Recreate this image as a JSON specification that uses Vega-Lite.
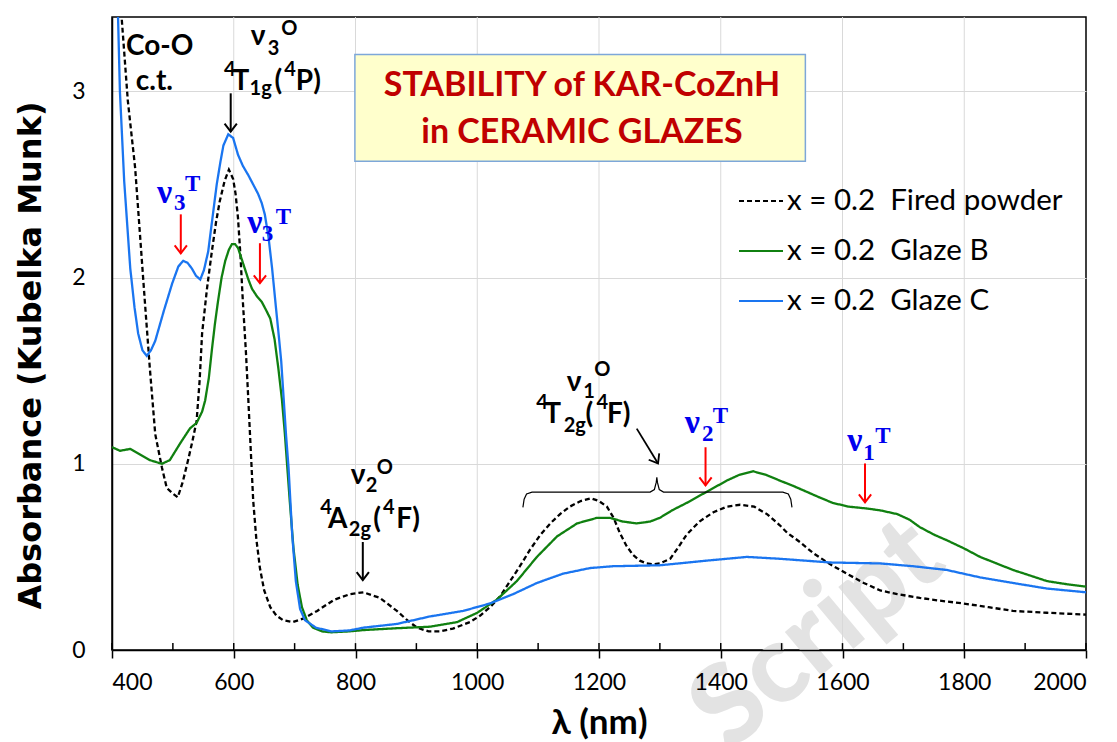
{
  "$schema": "https://vega.github.io/schema/vega-lite/v6.json",
  "width": 974,
  "height": 633,
  "autosize": {"type": "none"},
  "padding": {"left": 112, "top": 17, "right": 31, "bottom": 92},
  "background": "white",
  "config": {
    "font": "Lato",
    "view": {"stroke": "#000000", "strokeWidth": 1.5},
    "axis": {"gridColor": "#d9d9d9", "gridWidth": 1, "labelColor": "#000000", "titleColor": "#000000", "domainColor": "#000000", "tickColor": "#000000"},
    "legend": {"orient": "none", "legendX": 626, "legendY": 161, "symbolType": "stroke", "symbolSize": 1936, "symbolStrokeWidth": 2, "labelFont": "Lato", "labelFontSize": 29.5, "labelColor": "#000000", "labelOffset": 3, "rowPadding": 12, "padding": 0, "labelLimit": 400}
  },
  "datasets": {
    "spectra": [
      {"s":"Fired powder","wl":400,"a":4.2},{"s":"Fired powder","wl":408,"a":3.8},{"s":"Fired powder","wl":416,"a":3.39},{"s":"Fired powder","wl":426,"a":2.95},{"s":"Fired powder","wl":438,"a":2.59},{"s":"Fired powder","wl":446,"a":2.23},{"s":"Fired powder","wl":454,"a":1.87},{"s":"Fired powder","wl":462,"a":1.52},{"s":"Fired powder","wl":471,"a":1.16},{"s":"Fired powder","wl":482,"a":0.98},{"s":"Fired powder","wl":490,"a":0.87},{"s":"Fired powder","wl":500,"a":0.84},{"s":"Fired powder","wl":508,"a":0.82},{"s":"Fired powder","wl":516,"a":0.9},{"s":"Fired powder","wl":525,"a":1.02},{"s":"Fired powder","wl":532,"a":1.12},{"s":"Fired powder","wl":539,"a":1.23},{"s":"Fired powder","wl":544,"a":1.45},{"s":"Fired powder","wl":548,"a":1.7},{"s":"Fired powder","wl":556,"a":1.94},{"s":"Fired powder","wl":564,"a":2.14},{"s":"Fired powder","wl":571,"a":2.3},{"s":"Fired powder","wl":577,"a":2.41},{"s":"Fired powder","wl":585,"a":2.52},{"s":"Fired powder","wl":592,"a":2.58},{"s":"Fired powder","wl":599,"a":2.53},{"s":"Fired powder","wl":603,"a":2.45},{"s":"Fired powder","wl":607,"a":2.32},{"s":"Fired powder","wl":611,"a":2.12},{"s":"Fired powder","wl":615,"a":1.87},{"s":"Fired powder","wl":620,"a":1.6},{"s":"Fired powder","wl":624,"a":1.34},{"s":"Fired powder","wl":628,"a":1.07},{"s":"Fired powder","wl":632,"a":0.8},{"s":"Fired powder","wl":637,"a":0.6},{"s":"Fired powder","wl":643,"a":0.44},{"s":"Fired powder","wl":650,"a":0.32},{"s":"Fired powder","wl":660,"a":0.23},{"s":"Fired powder","wl":670,"a":0.185},{"s":"Fired powder","wl":681,"a":0.16},{"s":"Fired powder","wl":697,"a":0.15},{"s":"Fired powder","wl":715,"a":0.17},{"s":"Fired powder","wl":737,"a":0.21},{"s":"Fired powder","wl":765,"a":0.27},{"s":"Fired powder","wl":791,"a":0.3},{"s":"Fired powder","wl":813,"a":0.31},{"s":"Fired powder","wl":840,"a":0.28},{"s":"Fired powder","wl":868,"a":0.21},{"s":"Fired powder","wl":885,"a":0.16},{"s":"Fired powder","wl":901,"a":0.12},{"s":"Fired powder","wl":920,"a":0.1},{"s":"Fired powder","wl":939,"a":0.1},{"s":"Fired powder","wl":960,"a":0.115},{"s":"Fired powder","wl":988,"a":0.15},{"s":"Fired powder","wl":1005,"a":0.185},{"s":"Fired powder","wl":1021,"a":0.23},{"s":"Fired powder","wl":1038,"a":0.29},{"s":"Fired powder","wl":1054,"a":0.37},{"s":"Fired powder","wl":1070,"a":0.45},{"s":"Fired powder","wl":1087,"a":0.54},{"s":"Fired powder","wl":1104,"a":0.62},{"s":"Fired powder","wl":1120,"a":0.68},{"s":"Fired powder","wl":1136,"a":0.73},{"s":"Fired powder","wl":1152,"a":0.77},{"s":"Fired powder","wl":1170,"a":0.8},{"s":"Fired powder","wl":1187,"a":0.815},{"s":"Fired powder","wl":1200,"a":0.8},{"s":"Fired powder","wl":1213,"a":0.77},{"s":"Fired powder","wl":1224,"a":0.71},{"s":"Fired powder","wl":1234,"a":0.63},{"s":"Fired powder","wl":1245,"a":0.56},{"s":"Fired powder","wl":1256,"a":0.51},{"s":"Fired powder","wl":1267,"a":0.48},{"s":"Fired powder","wl":1278,"a":0.465},{"s":"Fired powder","wl":1290,"a":0.46},{"s":"Fired powder","wl":1300,"a":0.465},{"s":"Fired powder","wl":1317,"a":0.49},{"s":"Fired powder","wl":1330,"a":0.55},{"s":"Fired powder","wl":1344,"a":0.62},{"s":"Fired powder","wl":1365,"a":0.69},{"s":"Fired powder","wl":1388,"a":0.74},{"s":"Fired powder","wl":1410,"a":0.77},{"s":"Fired powder","wl":1432,"a":0.78},{"s":"Fired powder","wl":1455,"a":0.77},{"s":"Fired powder","wl":1476,"a":0.73},{"s":"Fired powder","wl":1497,"a":0.67},{"s":"Fired powder","wl":1509,"a":0.63},{"s":"Fired powder","wl":1530,"a":0.58},{"s":"Fired powder","wl":1552,"a":0.52},{"s":"Fired powder","wl":1580,"a":0.46},{"s":"Fired powder","wl":1607,"a":0.41},{"s":"Fired powder","wl":1635,"a":0.36},{"s":"Fired powder","wl":1662,"a":0.32},{"s":"Fired powder","wl":1690,"a":0.3},{"s":"Fired powder","wl":1727,"a":0.28},{"s":"Fired powder","wl":1760,"a":0.265},{"s":"Fired powder","wl":1798,"a":0.25},{"s":"Fired powder","wl":1840,"a":0.23},{"s":"Fired powder","wl":1880,"a":0.21},{"s":"Fired powder","wl":1936,"a":0.2},{"s":"Fired powder","wl":2000,"a":0.19},
      {"s":"Glaze B","wl":400,"a":1.09},{"s":"Glaze B","wl":413,"a":1.07},{"s":"Glaze B","wl":430,"a":1.08},{"s":"Glaze B","wl":446,"a":1.05},{"s":"Glaze B","wl":462,"a":1.02},{"s":"Glaze B","wl":482,"a":1.0},{"s":"Glaze B","wl":495,"a":1.02},{"s":"Glaze B","wl":512,"a":1.11},{"s":"Glaze B","wl":528,"a":1.19},{"s":"Glaze B","wl":539,"a":1.22},{"s":"Glaze B","wl":548,"a":1.28},{"s":"Glaze B","wl":553,"a":1.34},{"s":"Glaze B","wl":559,"a":1.46},{"s":"Glaze B","wl":564,"a":1.61},{"s":"Glaze B","wl":569,"a":1.75},{"s":"Glaze B","wl":574,"a":1.87},{"s":"Glaze B","wl":580,"a":2.0},{"s":"Glaze B","wl":586,"a":2.09},{"s":"Glaze B","wl":592,"a":2.15},{"s":"Glaze B","wl":597,"a":2.18},{"s":"Glaze B","wl":602,"a":2.18},{"s":"Glaze B","wl":607,"a":2.16},{"s":"Glaze B","wl":612,"a":2.11},{"s":"Glaze B","wl":618,"a":2.05},{"s":"Glaze B","wl":624,"a":1.99},{"s":"Glaze B","wl":630,"a":1.94},{"s":"Glaze B","wl":638,"a":1.9},{"s":"Glaze B","wl":646,"a":1.87},{"s":"Glaze B","wl":654,"a":1.82},{"s":"Glaze B","wl":660,"a":1.78},{"s":"Glaze B","wl":667,"a":1.67},{"s":"Glaze B","wl":673,"a":1.52},{"s":"Glaze B","wl":679,"a":1.35},{"s":"Glaze B","wl":684,"a":1.16},{"s":"Glaze B","wl":688,"a":0.98},{"s":"Glaze B","wl":692,"a":0.8},{"s":"Glaze B","wl":698,"a":0.55},{"s":"Glaze B","wl":705,"a":0.35},{"s":"Glaze B","wl":712,"a":0.23},{"s":"Glaze B","wl":720,"a":0.16},{"s":"Glaze B","wl":730,"a":0.12},{"s":"Glaze B","wl":745,"a":0.1},{"s":"Glaze B","wl":760,"a":0.095},{"s":"Glaze B","wl":790,"a":0.1},{"s":"Glaze B","wl":813,"a":0.107},{"s":"Glaze B","wl":868,"a":0.117},{"s":"Glaze B","wl":922,"a":0.125},{"s":"Glaze B","wl":967,"a":0.15},{"s":"Glaze B","wl":1000,"a":0.2},{"s":"Glaze B","wl":1032,"a":0.27},{"s":"Glaze B","wl":1065,"a":0.37},{"s":"Glaze B","wl":1098,"a":0.5},{"s":"Glaze B","wl":1131,"a":0.61},{"s":"Glaze B","wl":1164,"a":0.68},{"s":"Glaze B","wl":1197,"a":0.71},{"s":"Glaze B","wl":1218,"a":0.71},{"s":"Glaze B","wl":1239,"a":0.69},{"s":"Glaze B","wl":1262,"a":0.68},{"s":"Glaze B","wl":1284,"a":0.69},{"s":"Glaze B","wl":1300,"a":0.71},{"s":"Glaze B","wl":1320,"a":0.75},{"s":"Glaze B","wl":1344,"a":0.79},{"s":"Glaze B","wl":1377,"a":0.85},{"s":"Glaze B","wl":1410,"a":0.91},{"s":"Glaze B","wl":1430,"a":0.94},{"s":"Glaze B","wl":1453,"a":0.96},{"s":"Glaze B","wl":1475,"a":0.94},{"s":"Glaze B","wl":1497,"a":0.91},{"s":"Glaze B","wl":1520,"a":0.88},{"s":"Glaze B","wl":1541,"a":0.85},{"s":"Glaze B","wl":1562,"a":0.82},{"s":"Glaze B","wl":1584,"a":0.79},{"s":"Glaze B","wl":1610,"a":0.77},{"s":"Glaze B","wl":1640,"a":0.76},{"s":"Glaze B","wl":1662,"a":0.75},{"s":"Glaze B","wl":1690,"a":0.73},{"s":"Glaze B","wl":1710,"a":0.7},{"s":"Glaze B","wl":1727,"a":0.66},{"s":"Glaze B","wl":1750,"a":0.62},{"s":"Glaze B","wl":1771,"a":0.59},{"s":"Glaze B","wl":1800,"a":0.545},{"s":"Glaze B","wl":1826,"a":0.5},{"s":"Glaze B","wl":1853,"a":0.465},{"s":"Glaze B","wl":1880,"a":0.43},{"s":"Glaze B","wl":1908,"a":0.4},{"s":"Glaze B","wl":1936,"a":0.37},{"s":"Glaze B","wl":1965,"a":0.355},{"s":"Glaze B","wl":2000,"a":0.34},
      {"s":"Glaze C","wl":402,"a":4.3},{"s":"Glaze C","wl":406,"a":3.85},{"s":"Glaze C","wl":410,"a":3.39},{"s":"Glaze C","wl":413,"a":3.0},{"s":"Glaze C","wl":420,"a":2.52},{"s":"Glaze C","wl":430,"a":2.05},{"s":"Glaze C","wl":437,"a":1.84},{"s":"Glaze C","wl":443,"a":1.7},{"s":"Glaze C","wl":450,"a":1.61},{"s":"Glaze C","wl":457,"a":1.58},{"s":"Glaze C","wl":464,"a":1.61},{"s":"Glaze C","wl":471,"a":1.66},{"s":"Glaze C","wl":485,"a":1.82},{"s":"Glaze C","wl":499,"a":1.97},{"s":"Glaze C","wl":509,"a":2.06},{"s":"Glaze C","wl":517,"a":2.09},{"s":"Glaze C","wl":524,"a":2.08},{"s":"Glaze C","wl":531,"a":2.05},{"s":"Glaze C","wl":538,"a":2.01},{"s":"Glaze C","wl":545,"a":1.99},{"s":"Glaze C","wl":551,"a":2.04},{"s":"Glaze C","wl":558,"a":2.14},{"s":"Glaze C","wl":565,"a":2.32},{"s":"Glaze C","wl":572,"a":2.5},{"s":"Glaze C","wl":578,"a":2.62},{"s":"Glaze C","wl":583,"a":2.71},{"s":"Glaze C","wl":591,"a":2.77},{"s":"Glaze C","wl":599,"a":2.75},{"s":"Glaze C","wl":607,"a":2.66},{"s":"Glaze C","wl":615,"a":2.6},{"s":"Glaze C","wl":624,"a":2.55},{"s":"Glaze C","wl":632,"a":2.5},{"s":"Glaze C","wl":640,"a":2.45},{"s":"Glaze C","wl":646,"a":2.4},{"s":"Glaze C","wl":651,"a":2.34},{"s":"Glaze C","wl":657,"a":2.22},{"s":"Glaze C","wl":663,"a":2.05},{"s":"Glaze C","wl":669,"a":1.85},{"s":"Glaze C","wl":673,"a":1.72},{"s":"Glaze C","wl":678,"a":1.55},{"s":"Glaze C","wl":682,"a":1.35},{"s":"Glaze C","wl":686,"a":1.15},{"s":"Glaze C","wl":690,"a":0.98},{"s":"Glaze C","wl":696,"a":0.62},{"s":"Glaze C","wl":702,"a":0.37},{"s":"Glaze C","wl":709,"a":0.22},{"s":"Glaze C","wl":717,"a":0.16},{"s":"Glaze C","wl":735,"a":0.12},{"s":"Glaze C","wl":760,"a":0.1},{"s":"Glaze C","wl":790,"a":0.105},{"s":"Glaze C","wl":813,"a":0.12},{"s":"Glaze C","wl":868,"a":0.14},{"s":"Glaze C","wl":922,"a":0.18},{"s":"Glaze C","wl":977,"a":0.21},{"s":"Glaze C","wl":1021,"a":0.25},{"s":"Glaze C","wl":1059,"a":0.3},{"s":"Glaze C","wl":1098,"a":0.36},{"s":"Glaze C","wl":1141,"a":0.41},{"s":"Glaze C","wl":1185,"a":0.44},{"s":"Glaze C","wl":1223,"a":0.45},{"s":"Glaze C","wl":1300,"a":0.455},{"s":"Glaze C","wl":1377,"a":0.48},{"s":"Glaze C","wl":1443,"a":0.5},{"s":"Glaze C","wl":1497,"a":0.49},{"s":"Glaze C","wl":1580,"a":0.47},{"s":"Glaze C","wl":1662,"a":0.465},{"s":"Glaze C","wl":1716,"a":0.45},{"s":"Glaze C","wl":1771,"a":0.43},{"s":"Glaze C","wl":1826,"a":0.39},{"s":"Glaze C","wl":1880,"a":0.36},{"s":"Glaze C","wl":1936,"a":0.33},{"s":"Glaze C","wl":2000,"a":0.31}
    ],
    "ann": [
      {"t":"Co-O","wl":423,"a":3.198,"g":"O","p":"b"},
      {"t":"c.t.","wl":439,"a":3.01,"g":"O","p":"b"},
      {"t":"ν","wl":628,"a":3.251,"g":"O","p":"b"},
      {"t":"T","wl":598,"a":3.01,"g":"O","p":"b"},
      {"t":"(","wl":667,"a":3.01,"g":"O","p":"b"},
      {"t":"P)","wl":702,"a":3.01,"g":"O","p":"b"},
      {"t":"ν","wl":792,"a":0.894,"g":"O","p":"b"},
      {"t":"A","wl":755,"a":0.653,"g":"O","p":"b"},
      {"t":"(","wl":829,"a":0.653,"g":"O","p":"b"},
      {"t":"F)","wl":867,"a":0.653,"g":"O","p":"b"},
      {"t":"ν","wl":1147,"a":1.393,"g":"O","p":"b"},
      {"t":"T","wl":1110,"a":1.221,"g":"O","p":"b"},
      {"t":"(","wl":1178,"a":1.221,"g":"O","p":"b"},
      {"t":"F)","wl":1213,"a":1.221,"g":"O","p":"b"},
      {"t":"3","wl":656,"a":3.198,"g":"O","p":"s"},
      {"t":"1g","wl":626,"a":2.983,"g":"O","p":"s"},
      {"t":"2","wl":817,"a":0.846,"g":"O","p":"s"},
      {"t":"2g","wl":789,"a":0.611,"g":"O","p":"s"},
      {"t":"1","wl":1174,"a":1.355,"g":"O","p":"s"},
      {"t":"2g","wl":1142,"a":1.173,"g":"O","p":"s"},
      {"t":"O","wl":678,"a":3.305,"g":"O","p":"s"},
      {"t":"4","wl":584,"a":3.085,"g":"O","p":"s"},
      {"t":"4","wl":683,"a":3.085,"g":"O","p":"s"},
      {"t":"O","wl":835,"a":0.948,"g":"O","p":"s"},
      {"t":"4","wl":742,"a":0.728,"g":"O","p":"s"},
      {"t":"4","wl":845,"a":0.728,"g":"O","p":"s"},
      {"t":"O","wl":1192,"a":1.473,"g":"O","p":"s"},
      {"t":"4","wl":1097,"a":1.296,"g":"O","p":"s"},
      {"t":"4","wl":1196,"a":1.296,"g":"O","p":"s"},
      {"t":"ν","wl":474,"a":2.4,"g":"T","p":"b"},
      {"t":"ν","wl":622,"a":2.239,"g":"T","p":"b"},
      {"t":"ν","wl":1341,"a":1.168,"g":"T","p":"b"},
      {"t":"ν","wl":1608,"a":1.071,"g":"T","p":"b"},
      {"t":"3","wl":502,"a":2.362,"g":"T","p":"s"},
      {"t":"T","wl":520,"a":2.464,"g":"T","p":"s"},
      {"t":"3","wl":646,"a":2.196,"g":"T","p":"s"},
      {"t":"T","wl":669,"a":2.287,"g":"T","p":"s"},
      {"t":"2","wl":1369,"a":1.125,"g":"T","p":"s"},
      {"t":"T","wl":1387,"a":1.221,"g":"T","p":"s"},
      {"t":"1","wl":1634,"a":1.018,"g":"T","p":"s"},
      {"t":"T","wl":1654,"a":1.114,"g":"T","p":"s"}
    ],
    "arrows": [
      {"wl":595,"a":2.99,"a2":2.785,"g":"O"},
      {"wl":812,"a":0.58,"a2":0.375,"g":"O"},
      {"wl":513,"a":2.34,"a2":2.13,"g":"T"},
      {"wl":643,"a":2.185,"a2":1.97,"g":"T"},
      {"wl":1375,"a":1.089,"a2":0.884,"g":"T"},
      {"wl":1637,"a":1.002,"a2":0.793,"g":"T"}
    ],
    "brace": [
      {"wl":1075,"a":0.766},{"wl":1077,"a":0.81},{"wl":1081,"a":0.838},{"wl":1090,"a":0.848},{"wl":1284,"a":0.848},{"wl":1291,"a":0.862},{"wl":1294,"a":0.9},{"wl":1295,"a":0.927},{"wl":1296,"a":0.9},{"wl":1299,"a":0.862},{"wl":1306,"a":0.848},{"wl":1502,"a":0.848},{"wl":1511,"a":0.838},{"wl":1515,"a":0.81},{"wl":1517,"a":0.766}
    ],
    "minor": [
      {"wl":400},{"wl":500},{"wl":600},{"wl":700},{"wl":800},{"wl":900},{"wl":1000},{"wl":1100},{"wl":1200},{"wl":1300},{"wl":1400},{"wl":1500},{"wl":1600},{"wl":1700},{"wl":1800},{"wl":1900},{"wl":2000}
    ],
    "vgrid": [
      {"wl":600},{"wl":800},{"wl":1000},{"wl":1200},{"wl":1400},{"wl":1600},{"wl":1800}
    ],
    "ttl": [
      {"t":"STABILITY of KAR-CoZnH","a":2.973},
      {"t":"in CERAMIC GLAZES","a":2.721}
    ]
  },
  "layer": [
    {
      "data": {"values": [{}]},
      "mark": {"type": "text", "text": "Script", "font": "Lato", "fontWeight": 900, "fontSize": 110, "color": "#e3e3e3", "angle": -40, "align": "center", "baseline": "middle"},
      "encoding": {"x": {"datum": 1560}, "y": {"datum": 0.08}}
    },
    {
      "data": {"name": "vgrid"},
      "mark": {"type": "rule", "color": "#d9d9d9", "strokeWidth": 1},
      "encoding": {"x": {"field": "wl", "type": "quantitative"}, "y": {"datum": 0}, "y2": {"datum": 3.4}}
    },
    {
      "data": {"values": [{}]},
      "mark": {"type": "rect", "fill": "#FFFFCC", "stroke": "#7DA7D9", "strokeWidth": 1.5},
      "encoding": {"x": {"datum": 799}, "x2": {"datum": 1539}, "y": {"datum": 3.198}, "y2": {"datum": 2.625}}
    },
    {
      "data": {"name": "ttl"},
      "mark": {"type": "text", "font": "Lato", "fontWeight": "bold", "fontSize": 34, "color": "#C00000", "align": "center", "baseline": "alphabetic"},
      "encoding": {"x": {"datum": 1172}, "y": {"field": "a", "type": "quantitative"}, "text": {"field": "t"}}
    },
    {
      "data": {"name": "minor"},
      "mark": {"type": "rule", "color": "#000000", "strokeWidth": 1.5},
      "encoding": {"x": {"field": "wl", "type": "quantitative"}, "y": {"datum": 0}, "y2": {"datum": 0.037}}
    },
    {
      "data": {"name": "spectra"},
      "mark": {"type": "line", "strokeWidth": 2.3, "clip": true},
      "encoding": {
        "x": {"field": "wl", "type": "quantitative", "scale": {"domain": [400, 2000], "nice": false, "zero": false},
          "axis": {"title": "λ (nm)", "values": [400, 600, 800, 1000, 1200, 1400, 1600, 1800, 2000], "format": "d", "grid": false, "zindex": 1, "labelFont": "Lato", "labelFontSize": 23, "tickSize": 8, "tickWidth": 1.5, "domainWidth": 1.5, "labelPadding": 13, "titleFont": "Lato", "titleFontSize": 35, "titleFontWeight": "bold", "titleY": 72, "titleBaseline": "middle"}},
        "y": {"field": "a", "type": "quantitative", "scale": {"domain": [0, 3.4], "nice": false},
          "axis": {"title": "Absorbance (Kubelka Munk)", "values": [0, 1, 2, 3], "format": "d", "grid": true, "ticks": false, "domainWidth": 1.5, "labelPadding": 27, "labelFont": "Lato", "labelFontSize": 23, "titleFont": "DejaVu Sans", "titleFontSize": 32, "titleFontWeight": "bold", "titleX": -82, "titleY": 338, "titleBaseline": "middle", "titleAlign": "center"}},
        "color": {"field": "s", "type": "nominal", "scale": {"domain": ["Fired powder", "Glaze B", "Glaze C"], "range": ["#000000", "#108010", "#1A75F0"]},
          "legend": {"title": null, "labelExpr": "'x = 0.2\u00a0\u00a0' + datum.label"}},
        "strokeDash": {"field": "s", "type": "nominal", "scale": {"domain": ["Fired powder", "Glaze B", "Glaze C"], "range": [[5, 3], [1, 0], [1, 0]]},
          "legend": {"title": null, "labelExpr": "'x = 0.2\u00a0\u00a0' + datum.label"}}
      }
    },
    {
      "data": {"name": "brace"},
      "mark": {"type": "line", "color": "#000000", "strokeWidth": 1.2},
      "encoding": {"x": {"field": "wl", "type": "quantitative"}, "y": {"field": "a", "type": "quantitative"}}
    },
    {
      "data": {"name": "arrows"},
      "transform": [{"filter": "datum.g == 'O'"}],
      "mark": {"type": "rule", "color": "#000000", "strokeWidth": 2},
      "encoding": {"x": {"field": "wl", "type": "quantitative"}, "y": {"field": "a", "type": "quantitative"}, "y2": {"field": "a2"}}
    },
    {
      "data": {"name": "arrows"},
      "transform": [{"filter": "datum.g == 'T'"}],
      "mark": {"type": "rule", "color": "#FF0000", "strokeWidth": 2},
      "encoding": {"x": {"field": "wl", "type": "quantitative"}, "y": {"field": "a", "type": "quantitative"}, "y2": {"field": "a2"}}
    },
    {
      "data": {"name": "arrows"},
      "transform": [{"filter": "datum.g == 'O'"}],
      "mark": {"type": "point", "shape": "M-1,-1.3L0,0L1,-1.3", "filled": false, "size": 150, "stroke": "#000000", "strokeWidth": 2, "opacity": 1},
      "encoding": {"x": {"field": "wl", "type": "quantitative"}, "y": {"field": "a2", "type": "quantitative"}}
    },
    {
      "data": {"name": "arrows"},
      "transform": [{"filter": "datum.g == 'T'"}],
      "mark": {"type": "point", "shape": "M-1,-1.3L0,0L1,-1.3", "filled": false, "size": 150, "stroke": "#FF0000", "strokeWidth": 2, "opacity": 1},
      "encoding": {"x": {"field": "wl", "type": "quantitative"}, "y": {"field": "a2", "type": "quantitative"}}
    },
    {
      "data": {"values": [{}]},
      "mark": {"type": "rule", "color": "#000000", "strokeWidth": 1.8},
      "encoding": {"x": {"datum": 1262}, "x2": {"datum": 1297}, "y": {"datum": 1.189}, "y2": {"datum": 1.002}}
    },
    {
      "data": {"values": [{}]},
      "mark": {"type": "point", "shape": "M-1,-1.3L0,0L1,-1.3", "filled": false, "size": 150, "stroke": "#000000", "strokeWidth": 1.8, "angle": -31, "opacity": 1},
      "encoding": {"x": {"datum": 1297}, "y": {"datum": 1.002}}
    },
    {
      "data": {"name": "ann"},
      "transform": [{"filter": "datum.g == 'O' && datum.p == 'b'"}],
      "mark": {"type": "text", "align": "left", "baseline": "alphabetic", "font": "Lato", "fontWeight": "bold", "fontSize": 28, "color": "#000000"},
      "encoding": {"x": {"field": "wl", "type": "quantitative"}, "y": {"field": "a", "type": "quantitative"}, "text": {"field": "t"}}
    },
    {
      "data": {"name": "ann"},
      "transform": [{"filter": "datum.g == 'O' && datum.p == 's'"}],
      "mark": {"type": "text", "align": "left", "baseline": "alphabetic", "font": "Lato", "fontWeight": "bold", "fontSize": 20, "color": "#000000"},
      "encoding": {"x": {"field": "wl", "type": "quantitative"}, "y": {"field": "a", "type": "quantitative"}, "text": {"field": "t"}}
    },
    {
      "data": {"name": "ann"},
      "transform": [{"filter": "datum.g == 'T' && datum.p == 'b'"}],
      "mark": {"type": "text", "align": "left", "baseline": "alphabetic", "font": "Liberation Serif", "fontWeight": "bold", "fontSize": 34, "color": "#0000EE"},
      "encoding": {"x": {"field": "wl", "type": "quantitative"}, "y": {"field": "a", "type": "quantitative"}, "text": {"field": "t"}}
    },
    {
      "data": {"name": "ann"},
      "transform": [{"filter": "datum.g == 'T' && datum.p == 's'"}],
      "mark": {"type": "text", "align": "left", "baseline": "alphabetic", "font": "Liberation Serif", "fontWeight": "bold", "fontSize": 23, "color": "#0000EE"},
      "encoding": {"x": {"field": "wl", "type": "quantitative"}, "y": {"field": "a", "type": "quantitative"}, "text": {"field": "t"}}
    }
  ]
}
